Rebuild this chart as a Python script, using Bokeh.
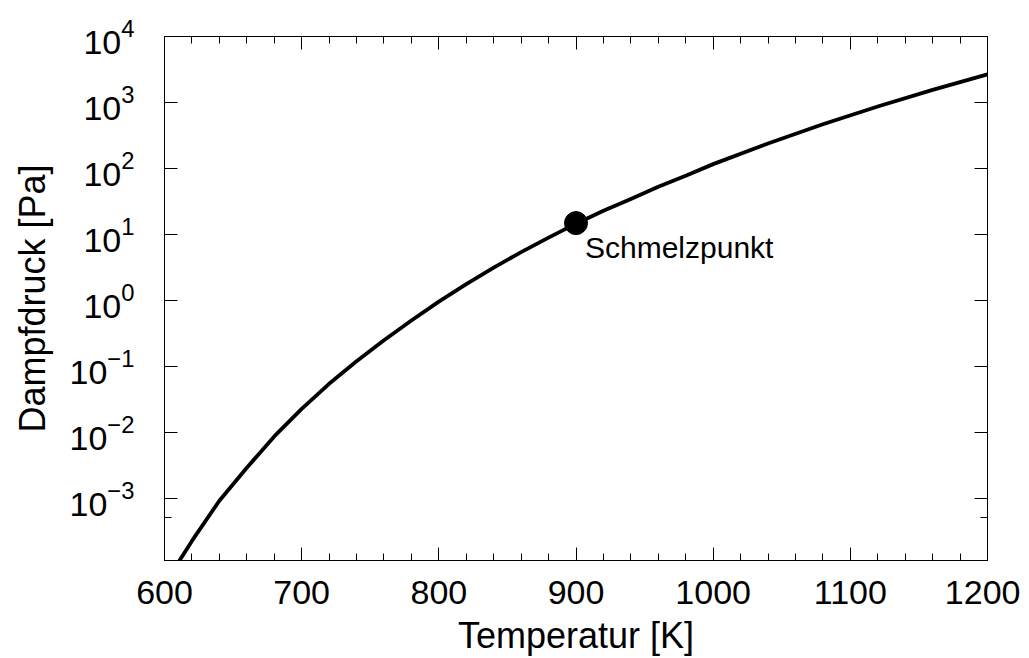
from bokeh.plotting import figure
from bokeh.models import LogAxis, LinearAxis, FixedTicker, Range1d
from bokeh.embed import file_html
from bokeh.resources import INLINE
from bokeh.core.properties import value

# Vapour pressure curve
temperature_K = [610, 620, 640, 660, 680, 700, 720, 740, 760, 780, 800, 820,
                 840, 860, 880, 900, 920, 940, 960, 980, 1000, 1040, 1080,
                 1120, 1160, 1200]
pressure_Pa = [1.05e-4, 2.24e-4, 9.12e-4, 2.88e-3, 8.61e-3, 2.25e-2, 5.40e-2,
               0.119, 0.247, 0.492, 0.955, 1.76, 3.13, 5.37, 8.91, 14.5, 22.7,
               34.3, 52.5, 77.6, 116.0, 239.0, 467.0, 869.0, 1549.0, 2661.0]

# Melting point
melt_T = [900]
melt_P = [14.8]
melt_label = ["Schmelzpunkt"]

# Tick positions
x_major = [600, 700, 800, 900, 1000, 1100, 1200]
x_minor = [620, 640, 660, 680, 720, 740, 760, 780, 820, 840, 860, 880,
           920, 940, 960, 980, 1020, 1040, 1060, 1080, 1120, 1140, 1160, 1180]
y_major = [1e-3, 1e-2, 1e-1, 1e0, 1e1, 1e2, 1e3, 1e4]
y_minor = [5e-4]

FONT = "Liberation Sans"

p = figure(width=1020, height=658,
           x_range=Range1d(600, 1200), y_range=Range1d(1.13e-4, 1e4),
           y_axis_type="log", output_backend="svg", toolbar_location=None,
           min_border_left=164, min_border_right=33,
           min_border_top=36, min_border_bottom=98)
p.grid.visible = False
p.outline_line_color = "black"
p.background_fill_color = "white"
p.border_fill_color = "white"

xt = FixedTicker(ticks=x_major, minor_ticks=x_minor)
yt = FixedTicker(ticks=y_major, minor_ticks=y_minor)


def style(ax, labels=True):
    ax.axis_line_color = "black"
    ax.axis_line_width = 1
    ax.major_tick_in = 13
    ax.major_tick_out = 0
    ax.minor_tick_in = 7
    ax.minor_tick_out = 0
    ax.major_tick_line_color = "black"
    ax.minor_tick_line_color = "black"
    if labels:
        ax.major_label_text_font = FONT
        ax.major_label_text_font_size = "34px"
        ax.major_label_text_color = "black"
        ax.axis_label_text_font = FONT
        ax.axis_label_text_font_size = "36px"
        ax.axis_label_text_font_style = "normal"
        ax.axis_label_text_color = "black"
    else:
        ax.major_label_text_font_size = "1px"
        ax.major_label_text_alpha = 0
        ax.major_label_standoff = 0


xa = p.xaxis[0]
xa.ticker = xt
style(xa)
xa.axis_label = "Temperatur [K]"
xa.major_label_standoff = 20
xa.axis_label_standoff = 8

ya = p.yaxis[0]
ya.ticker = yt
style(ya)
ya.axis_label = "Dampfdruck [Pa]"
ya.major_label_standoff = 30
ya.axis_label_standoff = 14

top = LinearAxis(ticker=xt)
style(top, labels=False)
p.add_layout(top, "above")

right = LogAxis(ticker=yt)
style(right, labels=False)
p.add_layout(right, "right")

p.line(temperature_K, pressure_Pa, line_color="black", line_width=3.8,
       line_join="round")
p.scatter(melt_T, melt_P, size=23, color="black")
p.text(x=melt_T, y=melt_P, text=melt_label, text_font=value(FONT),
       text_font_size="30px", text_color="black", text_baseline="top",
       text_align="left", x_offset=9, y_offset=8)

open("out.html", "w").write(file_html(p, INLINE))
